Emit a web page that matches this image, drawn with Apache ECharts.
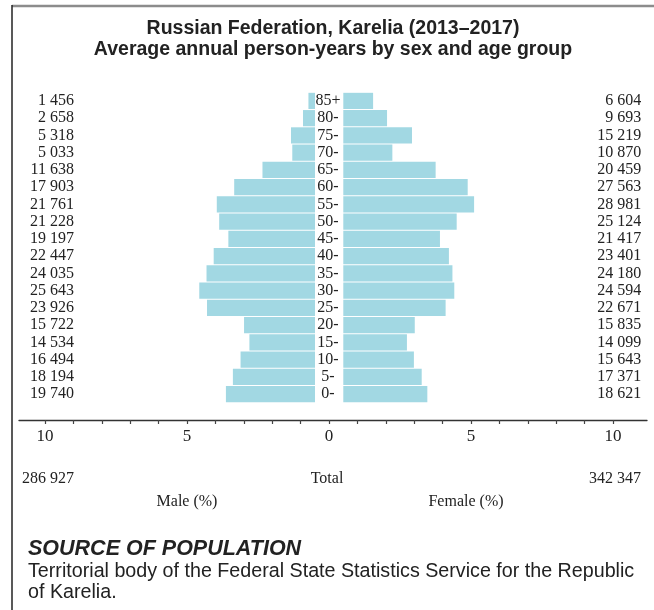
<!DOCTYPE html>
<html>
<head>
<meta charset="utf-8">
<script src="https://cdn.jsdelivr.net/npm/echarts@6/dist/echarts.min.js"></script>
<style>
html,body{margin:0;padding:0;background:#fff;}
#chart{width:654px;height:610px;}
</style>
</head>
<body>
<div id="chart"></div>
<script>
// ---- data (bottom-up: youngest first) ----
const ageGroups = ['0-','5-','10-','15-','20-','25-','30-','35-','40-','45-','50-','55-','60-','65-','70-','75-','80-','85+'];
const maleCounts = [19740,18194,16494,14534,15722,23926,25643,24035,22447,19197,21228,21761,17903,11638,5033,5318,2658,1456];
const femaleCounts = [18621,17371,15643,14099,15835,22671,24594,24180,23401,21417,25124,28981,27563,20459,10870,15219,9693,6604];
const maleTotal = 286927;
const femaleTotal = 342347;
const axisTicks = [-10,-9,-8,-7,-6,-5,-4,-3,-2,-1,0,1,2,3,4,5,6,7,8,9,10];
const axisTickLabels = [-10,-5,0,5,10];

const grand = maleTotal + femaleTotal;
const malePct = maleCounts.map(v => v / grand * 100);
const femalePct = femaleCounts.map(v => v / grand * 100);
const fmt = n => String(n).replace(/\B(?=(\d{3})+(?!\d))/g, ' ');

const SERIF = '"Liberation Serif", "DejaVu Serif", serif';
const SANS = '"Liberation Sans", Arial, sans-serif';
const barColor = '#a2d8e3';
const gTop = 92.3, gH = 310.4;

const chart = echarts.init(document.getElementById('chart'), null, {renderer: 'canvas'});
chart.setOption({
  animation: false,
  backgroundColor: '#fff',
  grid: [
    {left: 31, width: 284, top: gTop, height: gH},
    {left: 343.3, width: 284, top: gTop, height: gH},
    {left: 19, right: 7, top: 419, height: 1}
  ],
  xAxis: [
    {gridIndex: 0, type: 'value', min: 0, max: 10, inverse: true, show: false},
    {gridIndex: 1, type: 'value', min: 0, max: 10, show: false},
    {gridIndex: 2, type: 'value', min: -10.915, max: 11.197, position: 'bottom',
     axisLine: {show: true, lineStyle: {color: '#333', width: 1.3}},
     axisTick: {show: true, inside: false, length: 4, customValues: axisTicks, lineStyle: {color: '#444', width: 1.2}},
     axisLabel: {show: true, customValues: axisTickLabels, margin: 8, formatter: v => String(Math.abs(v)),
       fontFamily: SERIF, fontSize: 17, color: '#222'},
     splitLine: {show: false}}
  ],
  yAxis: [
    {gridIndex: 0, type: 'category', data: ageGroups, position: 'left',
     axisLine: {show: false}, axisTick: {show: false},
     axisLabel: {interval: 0, margin: -43, align: 'right', formatter: (v, i) => fmt(maleCounts[i]), fontFamily: SERIF, fontSize: 16, color: '#222'}},
    {gridIndex: 0, type: 'category', data: ageGroups, position: 'right',
     axisLine: {show: false}, axisTick: {show: false},
     axisLabel: {interval: 0, margin: 13, align: 'center', fontFamily: SERIF, fontSize: 16, color: '#222'}},
    {gridIndex: 1, type: 'category', data: ageGroups, position: 'right',
     axisLine: {show: false}, axisTick: {show: false},
     axisLabel: {interval: 0, margin: 14, align: 'right', formatter: (v, i) => fmt(femaleCounts[i]), fontFamily: SERIF, fontSize: 16, color: '#222'}},
    {gridIndex: 2, type: 'value', show: false}
  ],
  series: [
    {type: 'bar', name: 'Male', xAxisIndex: 0, yAxisIndex: 0, data: malePct, barCategoryGap: '6%',
     itemStyle: {color: barColor}, silent: true},
    {type: 'bar', name: 'Female', xAxisIndex: 1, yAxisIndex: 2, data: femalePct, barCategoryGap: '6%',
     itemStyle: {color: barColor}, silent: true}
  ],
  graphic: [
    {type: 'line', shape: {x1: 12, y1: 6, x2: 654, y2: 6}, style: {stroke: '#8c8c8c', lineWidth: 2.5}},
    {type: 'line', shape: {x1: 12, y1: 5, x2: 12, y2: 610}, style: {stroke: '#222', lineWidth: 1.5}},
    {type: 'text', x: 333, y: 29, style: {text: 'Russian Federation, Karelia (2013–2017)', font: 'bold 19.5px ' + SANS, fill: '#222', textAlign: 'center', textVerticalAlign: 'middle'}},
    {type: 'text', x: 333, y: 50, style: {text: 'Average annual person-years by sex and age group', font: 'bold 19.5px ' + SANS, fill: '#222', textAlign: 'center', textVerticalAlign: 'middle'}},
    {type: 'text', x: 22, y: 479, style: {text: fmt(maleTotal), font: '16px ' + SERIF, fill: '#222', textVerticalAlign: 'middle'}},
    {type: 'text', x: 641, y: 479, style: {text: fmt(femaleTotal), font: '16px ' + SERIF, fill: '#222', textAlign: 'right', textVerticalAlign: 'middle'}},
    {type: 'text', x: 327, y: 479, style: {text: 'Total', font: '16px ' + SERIF, fill: '#222', textAlign: 'center', textVerticalAlign: 'middle'}},
    {type: 'text', x: 187, y: 502, style: {text: 'Male (%)', font: '16px ' + SERIF, fill: '#222', textAlign: 'center', textVerticalAlign: 'middle'}},
    {type: 'text', x: 466, y: 502, style: {text: 'Female (%)', font: '16px ' + SERIF, fill: '#222', textAlign: 'center', textVerticalAlign: 'middle'}},
    {type: 'text', x: 28, y: 549, style: {text: 'SOURCE OF POPULATION', font: 'italic bold 21.5px ' + SANS, fill: '#222', textVerticalAlign: 'middle'}},
    {type: 'text', x: 28, y: 572, style: {text: 'Territorial body of the Federal State Statistics Service for the Republic', font: '19.7px ' + SANS, fill: '#222', textVerticalAlign: 'middle'}},
    {type: 'text', x: 28, y: 593, style: {text: 'of Karelia.', font: '19.7px ' + SANS, fill: '#222', textVerticalAlign: 'middle'}}
  ]
});
</script>
</body>
</html>
